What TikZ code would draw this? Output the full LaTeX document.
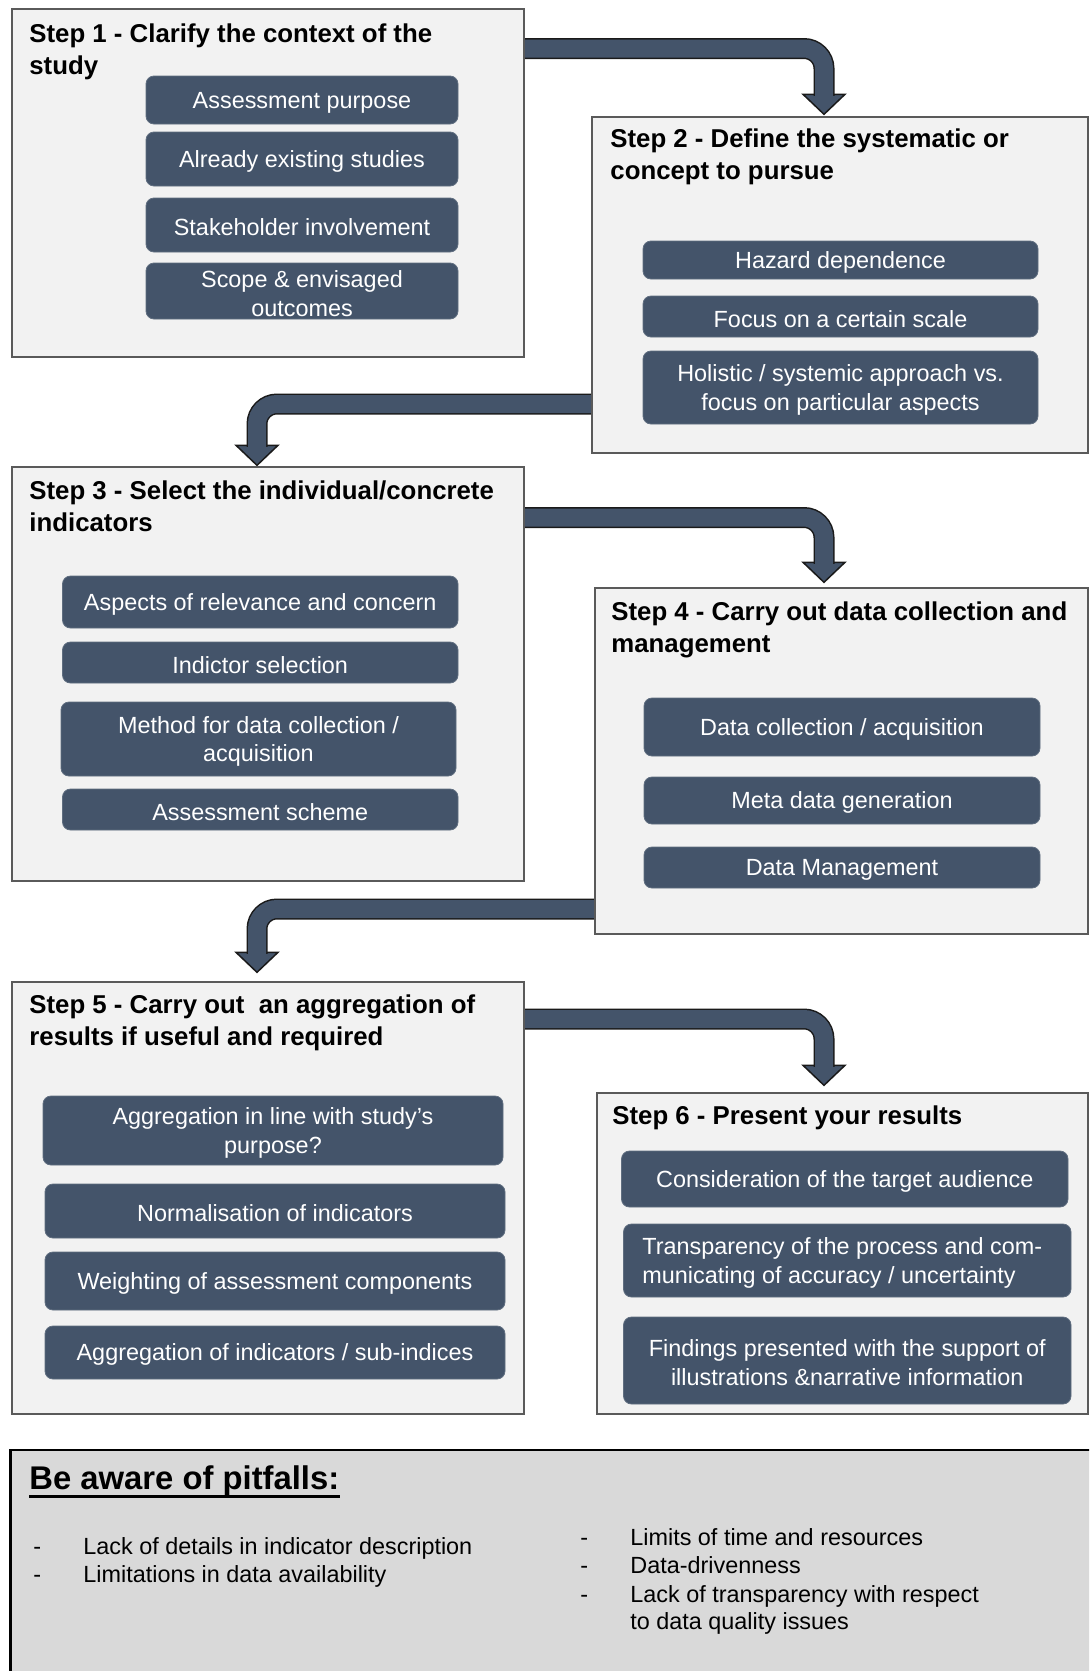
\documentclass[tikz,border=0pt]{standalone}
\usepackage{fontspec}
\setmainfont{Liberation Sans}
\usetikzlibrary{fit,calc}
\definecolor{slate}{HTML}{44546A}
\definecolor{stepfill}{HTML}{F2F2F2}
\definecolor{boxline}{HTML}{5A5A5A}
\definecolor{arrline}{HTML}{1A1A1A}
\definecolor{pitfill}{HTML}{D9D9D9}
\newcommand\titlefnt{\fontsize{12.9}{15}\selectfont\bfseries}
\newcommand\itemfnt{\fontsize{11.7}{14.3}\selectfont}
\newcommand\pitfnt{\fontsize{16.4}{19}\selectfont\bfseries}
\tikzset{
  stepbox/.style={draw=boxline, fill=stepfill, line width=0.7pt, inner sep=0pt},
  itembox/.style={fill=slate, draw=slate!85!white, line width=0.4pt, rounded corners=4pt, inner sep=0pt},
  itemtext/.style={text=white, font=\itemfnt, align=center, inner sep=0pt},
  steptitle/.style={font=\titlefnt, anchor=base west, inner sep=0pt},
  pitem/.style={font=\itemfnt, anchor=base west, inner sep=0pt},
  arrband/.style={draw=arrline, line width=0.75pt, double=slate, double distance=9pt, rounded corners=10pt},
  arrhead/.style={draw=arrline, fill=slate, line width=0.75pt, line join=miter},
}
\newcommand\flowarr[3]{%
  \draw[arrhead] ($(#3)+(-21,-20)$) -- (#3) -- ($(#3)+(21,-20)$) -- cycle;
  \draw[arrband] (#1) -- (#2) -- ($(#3)+(0,-18.5)$);
}
% item: [text options], name, corner1, corner2, text
\newcommand\itemat[5][]{%
  \node[itembox, fit={#3 #4}] (#2) {};
  \node[itemtext, yshift=-1.2pt, #1] (#2t) at (#2.center) {#5};
}
\begin{document}
\begin{tikzpicture}[x=0.5pt, y=-0.5pt]
\useasboundingbox (0,0) rectangle (1089,1671);
\clip (0,0) rectangle (1089,1671);

% ---------- step boxes (geometry) ----------
\path
  node[stepbox, fit={(12,9.5) (524,357)}] (s1) {}
  node[stepbox, fit={(592.5,117) (1087.5,453)}] (s2) {}
  node[stepbox, fit={(12,467) (524,881)}] (s3) {}
  node[stepbox, fit={(595,588) (1087.5,934)}] (s4) {}
  node[stepbox, fit={(12,982) (524,1414)}] (s5) {}
  node[stepbox, fit={(597,1093) (1087.5,1414)}] (s6) {};

% ---------- arrows ----------
\coordinate (c1) at (824,48.5);
\coordinate (c2) at (257,404);
\coordinate (c3) at (824,517.5);
\coordinate (c4) at (257,909);
\coordinate (c5) at (824,1019);
\coordinate (h1) at ($(s2.north -| c1)+(0,-2)$);
\coordinate (h2) at ($(s3.north -| c2)+(0,-1)$);
\coordinate (h3) at ($(s4.north -| c3)+(0,-5)$);
\coordinate (h4) at ($(s5.north -| c4)+(0,-9)$);
\coordinate (h5) at ($(s6.north -| c5)+(0,-7)$);
\flowarr{s1.east |- c1}{c1}{h1}
\flowarr{s2.west |- c2}{c2}{h2}
\flowarr{s3.east |- c3}{c3}{h3}
\flowarr{s4.west |- c4}{c4}{h4}
\flowarr{s5.east |- c5}{c5}{h5}

% redraw step box borders on top of arrow starts
\foreach \s in {s1,s2,s3,s4,s5,s6}{\draw[draw=boxline, line width=0.7pt] (\s.north west) rectangle (\s.south east);}

% ---------- titles ----------
\node[steptitle] (t1a) at (29,42.7) {Step 1 - Clarify the context of the};
\node[steptitle] (t1b) at (29,74) {study};
\node[steptitle] (t2a) at (610,147.7) {Step 2 - Define the systematic or};
\node[steptitle] (t2b) at (610,179) {concept to pursue};
\node[steptitle] (t3a) at (29,499) {Step 3 - Select the individual/concrete};
\node[steptitle] (t3b) at (29,531) {indicators};
\node[steptitle] (t4a) at (611,620.7) {Step 4 - Carry out data collection and};
\node[steptitle] (t4b) at (611,652) {management};
\node[steptitle] (t5a) at (29,1013) {Step 5 - Carry out\ \ an aggregation of};
\node[steptitle] (t5b) at (29,1045) {results if useful and required};
\node[steptitle] (t6a) at (612,1124) {Step 6 - Present your results};

% ---------- items ----------
\itemat{i11}{(146,76)}{(458,124)}{Assessment purpose}
\itemat{i12}{(146,132)}{(458,186)}{Already existing studies}
\itemat{i13}{(146,198)}{(458,252)}{Stakeholder involvement}
\itemat{i14}{(146,263)}{(458,319)}{Scope \& envisaged\\outcomes}

\itemat{i21}{(643,241)}{(1038,279)}{Hazard dependence}
\itemat{i22}{(643,296)}{(1038,337)}{Focus on a certain scale}
\itemat{i23}{(643,351)}{(1038,424)}{Holistic / systemic approach vs.\\focus on particular aspects}

\itemat{i31}{(62.5,576)}{(458,628)}{Aspects of relevance and concern}
\itemat{i32}{(62.5,642)}{(458,683)}{Indictor selection}
\itemat{i33}{(61,702)}{(456,776)}{Method for data collection /\\acquisition}
\itemat{i34}{(62.5,789)}{(458,830)}{Assessment scheme}

\itemat{i41}{(644,698)}{(1040,756)}{Data collection / acquisition}
\itemat{i42}{(644,777)}{(1040,824)}{Meta data generation}
\itemat{i43}{(644,847)}{(1040,888)}{Data Management}

\itemat{i51}{(43,1096)}{(503,1165)}{Aggregation in line with study’s\\purpose?}
\itemat{i52}{(45,1184)}{(505,1238)}{Normalisation of indicators}
\itemat{i53}{(45,1252)}{(505,1310)}{Weighting of assessment components}
\itemat{i54}{(45,1326)}{(505,1379)}{Aggregation of indicators / sub-indices}

\itemat{i61}{(621.5,1151)}{(1068,1207)}{Consideration of the target audience}
\node[itembox, fit={(623.5,1224) (1071,1297)}] (i62) {};
\node[itemtext, align=left, anchor=west, yshift=-1.2pt] (i62t) at (i62.center -| 642,0) {Transparency of the process and com-\\municating of accuracy / uncertainty};
\itemat{i63}{(623.5,1317)}{(1071,1404)}{Findings presented with the support of\\illustrations \&narrative information}

% ---------- pitfalls ----------
\node[draw=black, fill=pitfill, line width=1.2pt, inner sep=0pt, fit={(10.5,1450) (1100,1690)}] (pf) {};
\node[font=\pitfnt, anchor=base west, inner sep=0pt] (pt) at (29,1489) {Be aware of pitfalls:};
\draw[line width=1.5pt] ($(pt.base west)+(0,7.5)$) -- ($(pt.base east)+(0,7.5)$);

\node[pitem] (d1) at (33,1554) {-};
\node[pitem] (p1) at (83,1554) {Lack of details in indicator description};
\node[pitem] (d2) at (33,1582) {-};
\node[pitem] (p2) at (83,1582) {Limitations in data availability};
\node[pitem] (d3) at (580,1545) {-};
\node[pitem] (p3) at (630,1545) {Limits of time and resources};
\node[pitem] (d4) at (580,1573) {-};
\node[pitem] (p4) at (630,1573) {Data-drivenness};
\node[pitem] (d5) at (580,1602) {-};
\node[pitem] (p5) at (630,1602) {Lack of transparency with respect};
\node[pitem] (p6) at (630,1629) {to data quality issues};
\end{tikzpicture}
\end{document}
